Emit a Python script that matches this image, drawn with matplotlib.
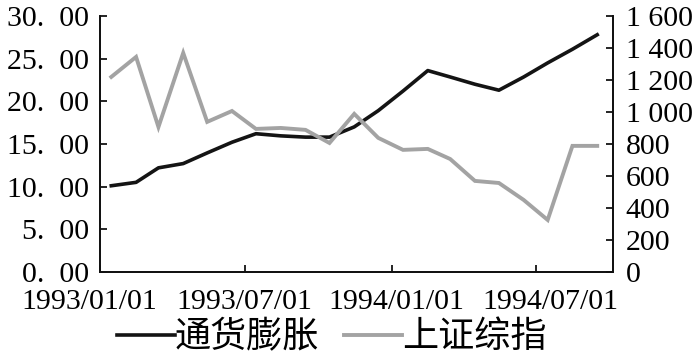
import matplotlib
matplotlib.use("Agg")
import matplotlib.pyplot as plt
import matplotlib.dates as mdates
import matplotlib.transforms as mtransforms
from matplotlib.ticker import FuncFormatter, FixedLocator
import datetime as dt

# ---- data ----
months = ["1993-01", "1993-02", "1993-03", "1993-04", "1993-05", "1993-06", "1993-07",
          "1993-08", "1993-09", "1993-10", "1993-11", "1993-12", "1994-01", "1994-02",
          "1994-03", "1994-04", "1994-05", "1994-06", "1994-07", "1994-08", "1994-09"]
inflation = [10.1, 10.5, 12.2, 12.7, 13.95, 15.2, 16.2, 15.95, 15.8, 15.8, 17.0,
             18.9, 21.2, 23.6, 22.85, 22.0, 21.3, 22.85, 24.5, 26.1, 27.8]
sh_index = [1219, 1344, 906, 1369, 938, 1006, 894, 900, 888, 806, 988,
            838, 763, 769, 706, 569, 556, 450, 325, 788, 788]
xtick_labels = ["1993/01/01", "1993/07/01", "1994/01/01", "1994/07/01"]
left_ticks = [0, 5, 10, 15, 20, 25, 30]
right_ticks = [0, 200, 400, 600, 800, 1000, 1200, 1400, 1600]
series_names = ["通货膨胀", "上证综指"]

dates = [dt.datetime.strptime(m + "-15", "%Y-%m-%d") for m in months]
tick_dates = [dt.datetime.strptime(s, "%Y/%m/%d") for s in xtick_labels]

num_font = "Liberation Serif"
cjk_font = ["Noto Sans CJK SC", "DejaVu Sans"]
fs = 21.5

fig = plt.figure(figsize=(7.0, 3.55), dpi=100)
ax = fig.add_axes([0.143, 0.234, 0.733, 0.721])
ax2 = ax.twinx()

l1, = ax.plot(dates, inflation, color="#141414", lw=2.6, solid_joinstyle="round")
l2, = ax2.plot(dates, sh_index, color="#a3a3a3", lw=2.8, solid_joinstyle="miter")

ax.set_xlim(dt.datetime(1993, 1, 1), dt.datetime(1994, 10, 5))
ax.set_ylim(0, 30)
ax2.set_ylim(0, 1600)

ax.xaxis.set_major_locator(FixedLocator(mdates.date2num(tick_dates)))
ax.set_xticklabels(xtick_labels)
ax.set_yticks(left_ticks)
ax.yaxis.set_major_formatter(FuncFormatter(lambda v, p: f"{v:.2f}".replace(".", ".  ")))
ax2.set_yticks(right_ticks)
ax2.yaxis.set_major_formatter(FuncFormatter(lambda v, p: f"{int(v):,}".replace(",", " ")))

for a in (ax, ax2):
    a.spines["top"].set_visible(False)
    for s in a.spines.values():
        s.set_linewidth(1.3)
        s.set_color("#111111")
ax.tick_params(axis="both", direction="in", length=5, width=1.2, labelsize=fs)
ax.tick_params(axis="x", pad=12)
ax.tick_params(axis="y", pad=8)
ax2.tick_params(axis="y", direction="in", length=5, width=1.2, labelsize=fs, pad=9)

for lab in ax.get_xticklabels() + ax.get_yticklabels() + ax2.get_yticklabels():
    lab.set_fontfamily(num_font)

# shift the x tick labels slightly as in the reference
offsets = [-11, 0, 4, 14]
for lab, off in zip(ax.get_xticklabels(), offsets):
    lab.set_transform(lab.get_transform() + mtransforms.ScaledTranslation(off / 100, 0, fig.dpi_scale_trans))

leg = fig.legend([l1, l2], series_names, loc="center", bbox_to_anchor=(0.474, 0.05),
                 ncol=2, frameon=False, handlelength=1.6, handletextpad=0.0,
                 columnspacing=0.7, prop={"family": cjk_font, "size": 26})

fig.savefig("out.png", dpi=100)
